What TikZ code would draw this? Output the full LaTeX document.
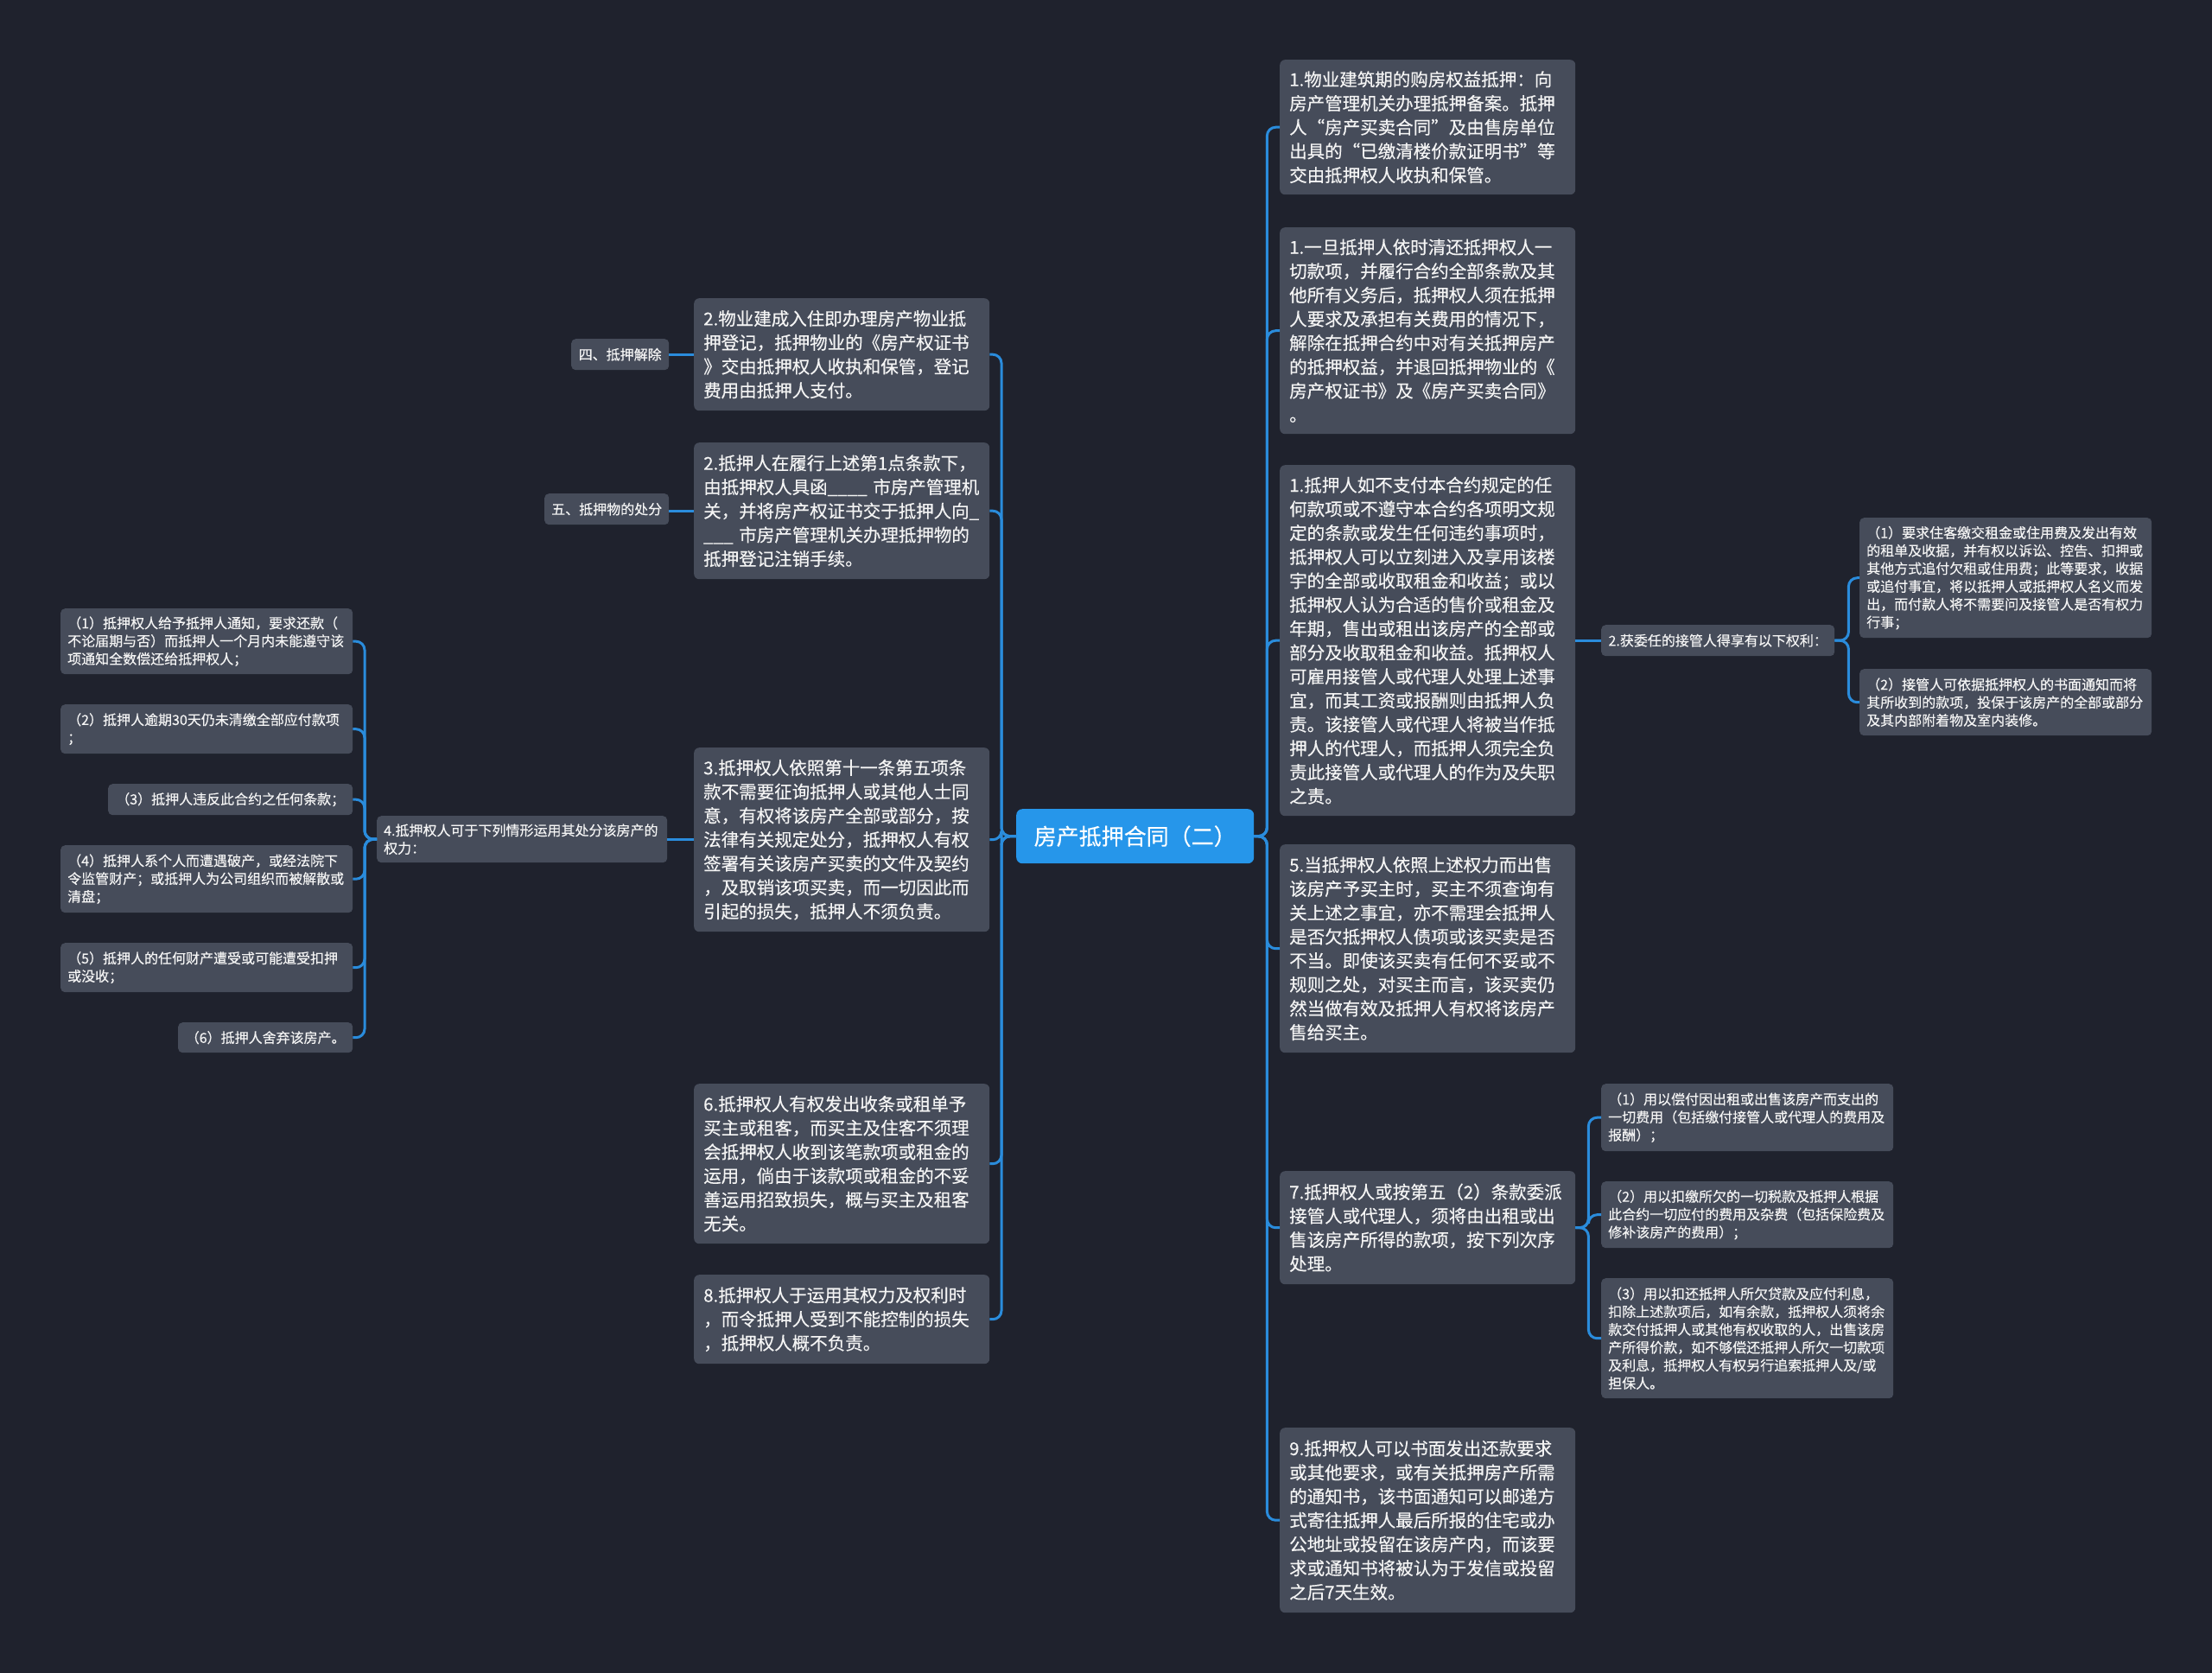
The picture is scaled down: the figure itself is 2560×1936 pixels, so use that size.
\documentclass[tikz,border=0pt]{standalone}
\usepackage{fontspec}
\setmainfont{Noto Sans CJK SC}[FakeBold=0.3]
\definecolor{bgc}{HTML}{1F222D}
\definecolor{nodec}{HTML}{464C5A}
\definecolor{rootc}{HTML}{2696EA}
\definecolor{linec}{HTML}{2A8CDC}
\definecolor{txtc}{HTML}{F4F4F4}
\begin{document}
\begin{tikzpicture}[x=1pt,y=-1pt,
  mbox/.style={fill=nodec, rounded corners=6pt, text=txtc, align=left, text width=320pt, inner xsep=11pt, inner ysep=0pt, anchor=north west, font=\fontsize{20.5}{27.7}\selectfont},
  sbox/.style={fill=nodec, rounded corners=5pt, text=txtc, align=left, text width=322pt, inner xsep=8pt, inner ysep=0pt, anchor=north west, font=\fontsize{16}{20.7}\selectfont},
  lbox/.style={fill=nodec, rounded corners=5pt, text=txtc, inner xsep=0pt, inner ysep=0pt, anchor=north west, font=\fontsize{16}{20.7}\selectfont},
  rootbox/.style={fill=rootc, rounded corners=7pt, text=white, inner sep=0pt, anchor=north west, font=\fontsize{26}{30}\selectfont},
  edge/.style={draw=linec, line width=3pt, rounded corners=10pt},
]
\useasboundingbox (0,0) rectangle (2560,1936);
\fill[bgc] (0,0) rectangle (2560,1936);

% root
\node[rootbox, minimum width=275pt, minimum height=63pt] (root) at (1176,936) {房产抵押合同（二）};

% right main nodes
\node[mbox, minimum height=156pt] (r1) at (1481,69) {1.物业建筑期的购房权益抵押：向\\房产管理机关办理抵押备案。抵押\\人“房产买卖合同”及由售房单位\\出具的“已缴清楼价款证明书”等\\交由抵押权人收执和保管。};
\node[mbox, minimum height=239pt] (r2) at (1481,263) {1.一旦抵押人依时清还抵押权人一\\切款项，并履行合约全部条款及其\\他所有义务后，抵押权人须在抵押\\人要求及承担有关费用的情况下，\\解除在抵押合约中对有关抵押房产\\的抵押权益，并退回抵押物业的《\\房产权证书》及《房产买卖合同》\\。};
\node[mbox, minimum height=406pt] (r3) at (1481,538) {1.抵押人如不支付本合约规定的任\\何款项或不遵守本合约各项明文规\\定的条款或发生任何违约事项时，\\抵押权人可以立刻进入及享用该楼\\宇的全部或收取租金和收益；或以\\抵押权人认为合适的售价或租金及\\年期，售出或租出该房产的全部或\\部分及收取租金和收益。抵押权人\\可雇用接管人或代理人处理上述事\\宜，而其工资或报酬则由抵押人负\\责。该接管人或代理人将被当作抵\\押人的代理人，而抵押人须完全负\\责此接管人或代理人的作为及失职\\之责。};
\node[mbox, minimum height=241pt] (r4) at (1481,977) {5.当抵押权人依照上述权力而出售\\该房产予买主时，买主不须查询有\\关上述之事宜，亦不需理会抵押人\\是否欠抵押权人债项或该买卖是否\\不当。即使该买卖有任何不妥或不\\规则之处，对买主而言，该买卖仍\\然当做有效及抵押人有权将该房产\\售给买主。};
\node[mbox, minimum height=131pt] (r5) at (1481,1355) {7.抵押权人或按第五（2）条款委派\\接管人或代理人，须将由出租或出\\售该房产所得的款项，按下列次序\\处理。};
\node[mbox, minimum height=214pt] (r6) at (1481,1652) {9.抵押权人可以书面发出还款要求\\或其他要求，或有关抵押房产所需\\的通知书，该书面通知可以邮递方\\式寄往抵押人最后所报的住宅或办\\公地址或投留在该房产内，而该要\\求或通知书将被认为于发信或投留\\之后7天生效。};

% right sub nodes
\node[lbox, minimum width=270pt, minimum height=36pt] (hq) at (1853,723) {2.获委任的接管人得享有以下权利：};
\node[sbox, minimum height=139pt] (h1) at (2152,599) {（1）要求住客缴交租金或住用费及发出有效\\的租单及收据，并有权以诉讼、控告、扣押或\\其他方式追付欠租或住用费；此等要求，收据\\或追付事宜，将以抵押人或抵押权人名义而发\\出，而付款人将不需要问及接管人是否有权力\\行事；};
\node[sbox, minimum height=77pt] (h2) at (2152,774) {（2）接管人可依据抵押权人的书面通知而将\\其所收到的款项，投保于该房产的全部或部分\\及其内部附着物及室内装修。};
\node[sbox, minimum height=78pt] (c1) at (1853,1254) {（1）用以偿付因出租或出售该房产而支出的\\一切费用（包括缴付接管人或代理人的费用及\\报酬）；};
\node[sbox, minimum height=77pt] (c2) at (1853,1367) {（2）用以扣缴所欠的一切税款及抵押人根据\\此合约一切应付的费用及杂费（包括保险费及\\修补该房产的费用）；};
\node[sbox, minimum height=139pt] (c3) at (1853,1479) {（3）用以扣还抵押人所欠贷款及应付利息，\\扣除上述款项后，如有余款，抵押权人须将余\\款交付抵押人或其他有权收取的人，出售该房\\产所得价款，如不够偿还抵押人所欠一切款项\\及利息，抵押权人有权另行追索抵押人及/或\\担保人。};

% left main nodes
\node[mbox, minimum height=130pt] (l1) at (803,345) {2.物业建成入住即办理房产物业抵\\押登记，抵押物业的《房产权证书\\》交由抵押权人收执和保管，登记\\费用由抵押人支付。};
\node[mbox, minimum height=158pt] (l2) at (803,512) {2.抵押人在履行上述第1点条款下，\\由抵押权人具函\_\_\_\_ 市房产管理机\\关，并将房产权证书交于抵押人向\_\\\_\_\_ 市房产管理机关办理抵押物的\\抵押登记注销手续。};
\node[mbox, minimum height=213pt] (l3) at (803,865) {3.抵押权人依照第十一条第五项条\\款不需要征询抵押人或其他人士同\\意，有权将该房产全部或部分，按\\法律有关规定处分，抵押权人有权\\签署有关该房产买卖的文件及契约\\，及取销该项买卖，而一切因此而\\引起的损失，抵押人不须负责。};
\node[mbox, minimum height=185pt] (l4) at (803,1254) {6.抵押权人有权发出收条或租单予\\买主或租客，而买主及住客不须理\\会抵押权人收到该笔款项或租金的\\运用，倘由于该款项或租金的不妥\\善运用招致损失，概与买主及租客\\无关。};
\node[mbox, minimum height=103pt] (l5) at (803,1475) {8.抵押权人于运用其权力及权利时\\，而令抵押人受到不能控制的损失\\，抵押权人概不负责。};

% left sub nodes
\node[lbox, minimum width=113pt, minimum height=36pt] (si) at (661,392) {四、抵押解除};
\node[lbox, minimum width=144pt, minimum height=36pt] (wu) at (630,571) {五、抵押物的处分};
\node[sbox, text width=320pt, minimum height=54pt] (k) at (436,944) {4.抵押权人可于下列情形运用其处分该房产的\\权力：};
\node[sbox, minimum height=76pt] (k1) at (70,704) {（1）抵押权人给予抵押人通知，要求还款（\\不论届期与否）而抵押人一个月内未能遵守该\\项通知全数偿还给抵押权人；};
\node[sbox, minimum height=57pt] (k2) at (70,815) {（2）抵押人逾期30天仍未清缴全部应付款项\\；};
\node[lbox, minimum width=283pt, minimum height=36pt] (k3) at (125,907) {（3）抵押人违反此合约之任何条款；};
\node[sbox, minimum height=78pt] (k4) at (70,978) {（4）抵押人系个人而遭遇破产，或经法院下\\令监管财产；或抵押人为公司组织而被解散或\\清盘；};
\node[sbox, minimum height=57pt] (k5) at (70,1091) {（5）抵押人的任何财产遭受或可能遭受扣押\\或没收；};
\node[lbox, minimum width=202pt, minimum height=35pt] (k6) at (206,1183) {（6）抵押人舍弃该房产。};

% connectors right
\foreach \n in {r1,r2,r3,r4,r5,r6}
  \draw[edge] (root.east) -- ++(15,0) |- (\n.west);
\draw[edge] (r3.east) -- (r3.east -| hq.west);
\foreach \n in {h1,h2}
  \draw[edge] (hq.east) -- ++(16,0) |- (\n.west);
\foreach \n in {c1,c2,c3}
  \draw[edge] (r5.east) -- ++(15,0) |- (\n.west);

% connectors left
\foreach \n in {l1,l2,l3,l4,l5}
  \draw[edge] (root.west) -- ++(-17,0) |- (\n.east);
\draw[edge] (l1.west) -- (l1.west -| si.east);
\draw[edge] (l2.west) -- (l2.west -| wu.east);
\draw[edge] (l3.west) -- (l3.west -| k.east);
\foreach \n in {k1,k2,k3,k4,k5,k6}
  \draw[edge] (k.west) -- ++(-14,0) |- (\n.east);
\end{tikzpicture}
\end{document}
